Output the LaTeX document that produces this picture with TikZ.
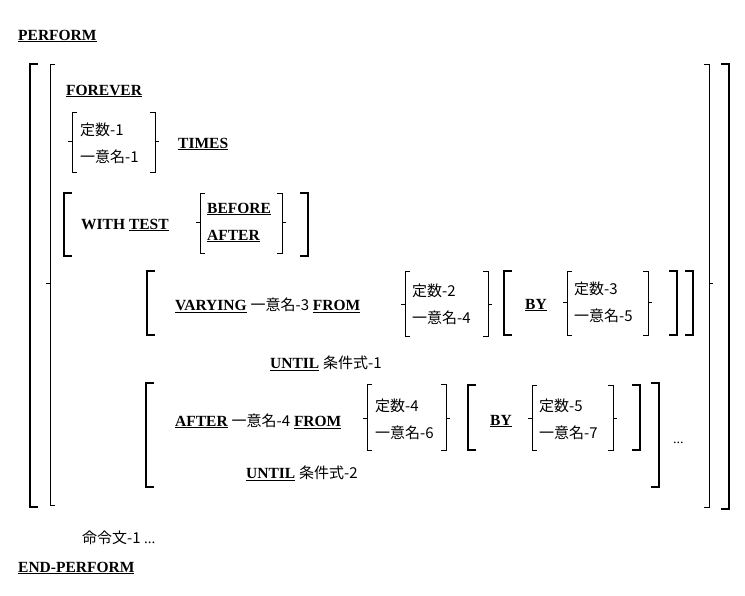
\documentclass[tikz,border=0pt]{standalone}
\usepackage{fontspec}
\setmainfont{Liberation Serif}
\newfontfamily\jpfont{Noto Sans CJK JP}
\newcommand\jp{\jpfont\mdseries\fontsize{15}{15}\selectfont}
\tikzset{
  kw/.style={font=\fontsize{15.5}{15.5}\selectfont\bfseries, anchor=west, inner sep=0pt},
  jptext/.style={font=\jp, anchor=west, inner sep=0pt},
  heavy/.style={line width=2.6pt},
  light/.style={line width=1pt}
}
% brackets: x, top, bottom
\newcommand\openbrk[3]{\draw[heavy] (#1+8,#2) -- (#1,#2) -- (#1,#3) -- (#1+8,#3);}
\newcommand\closebrk[3]{\draw[heavy] (#1-8,#2) -- (#1,#2) -- (#1,#3) -- (#1-8,#3);}
% braces: x, top, bottom, tick
\newcommand\openbrc[4]{\draw[light] (#1+5,#2) -- (#1,#2) -- (#1,#3) -- (#1+5,#3);
  \draw[light] (#1,#4) -- (#1-4,#4);}
\newcommand\closebrc[4]{\draw[light] (#1-5,#2) -- (#1,#2) -- (#1,#3) -- (#1-5,#3);
  \draw[light] (#1,#4) -- (#1+4,#4);}
\begin{document}
\begin{tikzpicture}[x=1pt,y=-1pt]
\useasboundingbox (0,0) rectangle (745,595);

%Header and footer
\node[kw] (perform) at (18,36) {\underline{PERFORM}};
\node[jptext] (stmt) at (82,538) {命令文-1 \textrm{...}};
\node[kw] (endperform) at (18,568) {\underline{END-PERFORM}};

%Outer brackets
\openbrk{30}{64}{507}
\openbrc{50}{64}{505}{283}
\closebrc{709}{64}{507}{283}
\closebrk{729}{64}{509}

%FOREVER / TIMES
\node[kw] (forever) at (66,91) {\underline{FOREVER}};
\openbrc{72}{112}{172}{141}
\node[jptext] (lit1) at (80,130) {定数-1};
\node[jptext] (id1) at (80,157) {一意名-1};
\closebrc{155}{112}{172}{141}
\node[kw] (times) at (178,144) {\underline{TIMES}};

%WITH TEST
\openbrk{64}{193}{256}
\node[kw] (withtest) at (81,225) {WITH \underline{TEST}};
\openbrc{200}{193}{253}{222}
\node[kw] (before) at (207,209) {\underline{BEFORE}};
\node[kw] (after) at (207,236) {\underline{AFTER}};
\closebrc{282}{193}{253}{222}
\closebrk{308}{193}{256}

%VARYING
\openbrk{147}{271}{335}
\node[kw] (varying) at (175,305) {\underline{VARYING} {\jp 一意名-3} \underline{FROM}};
\openbrc{405}{271}{336}{304}
\node[jptext] (lit2) at (412,291) {定数-2};
\node[jptext] (id4) at (412,318) {一意名-4};
\closebrc{488}{271}{336}{304}
\openbrk{504}{271}{335}
\node[kw] (by1) at (525,305) {\underline{BY}};
\openbrc{567}{271}{335}{302}
\node[jptext] (lit3) at (574,289) {定数-3};
\node[jptext] (id5) at (574,316) {一意名-5};
\closebrc{648}{271}{335}{302}
\closebrk{677}{271}{335}
\closebrk{693}{271}{335}
\node[kw] (until1) at (270,363) {\underline{UNTIL} {\jp 条件式-1}};

%AFTER
\openbrk{146}{383}{487}
\node[kw] (afterrow) at (175,421) {\underline{AFTER} {\jp 一意名-4} \underline{FROM}};
\openbrc{367}{384}{450}{418}
\node[jptext] (lit4) at (375,406) {定数-4};
\node[jptext] (id6) at (375,433) {一意名-6};
\closebrc{446}{384}{450}{418}
\openbrk{468}{385}{450}
\node[kw] (by2) at (490,421) {\underline{BY}};
\openbrc{532}{385}{450}{418}
\node[jptext] (lit5) at (539,406) {定数-5};
\node[jptext] (id7) at (539,433) {一意名-7};
\closebrc{613}{385}{450}{418}
\closebrk{640}{385}{450}
\closebrk{659}{383}{487}
\node[anchor=west, inner sep=0pt, font=\fontsize{14}{14}\selectfont] (dots) at (673,443) {...};
\node[kw] (until2) at (246,473) {\underline{UNTIL} {\jp 条件式-2}};
\end{tikzpicture}
\end{document}
